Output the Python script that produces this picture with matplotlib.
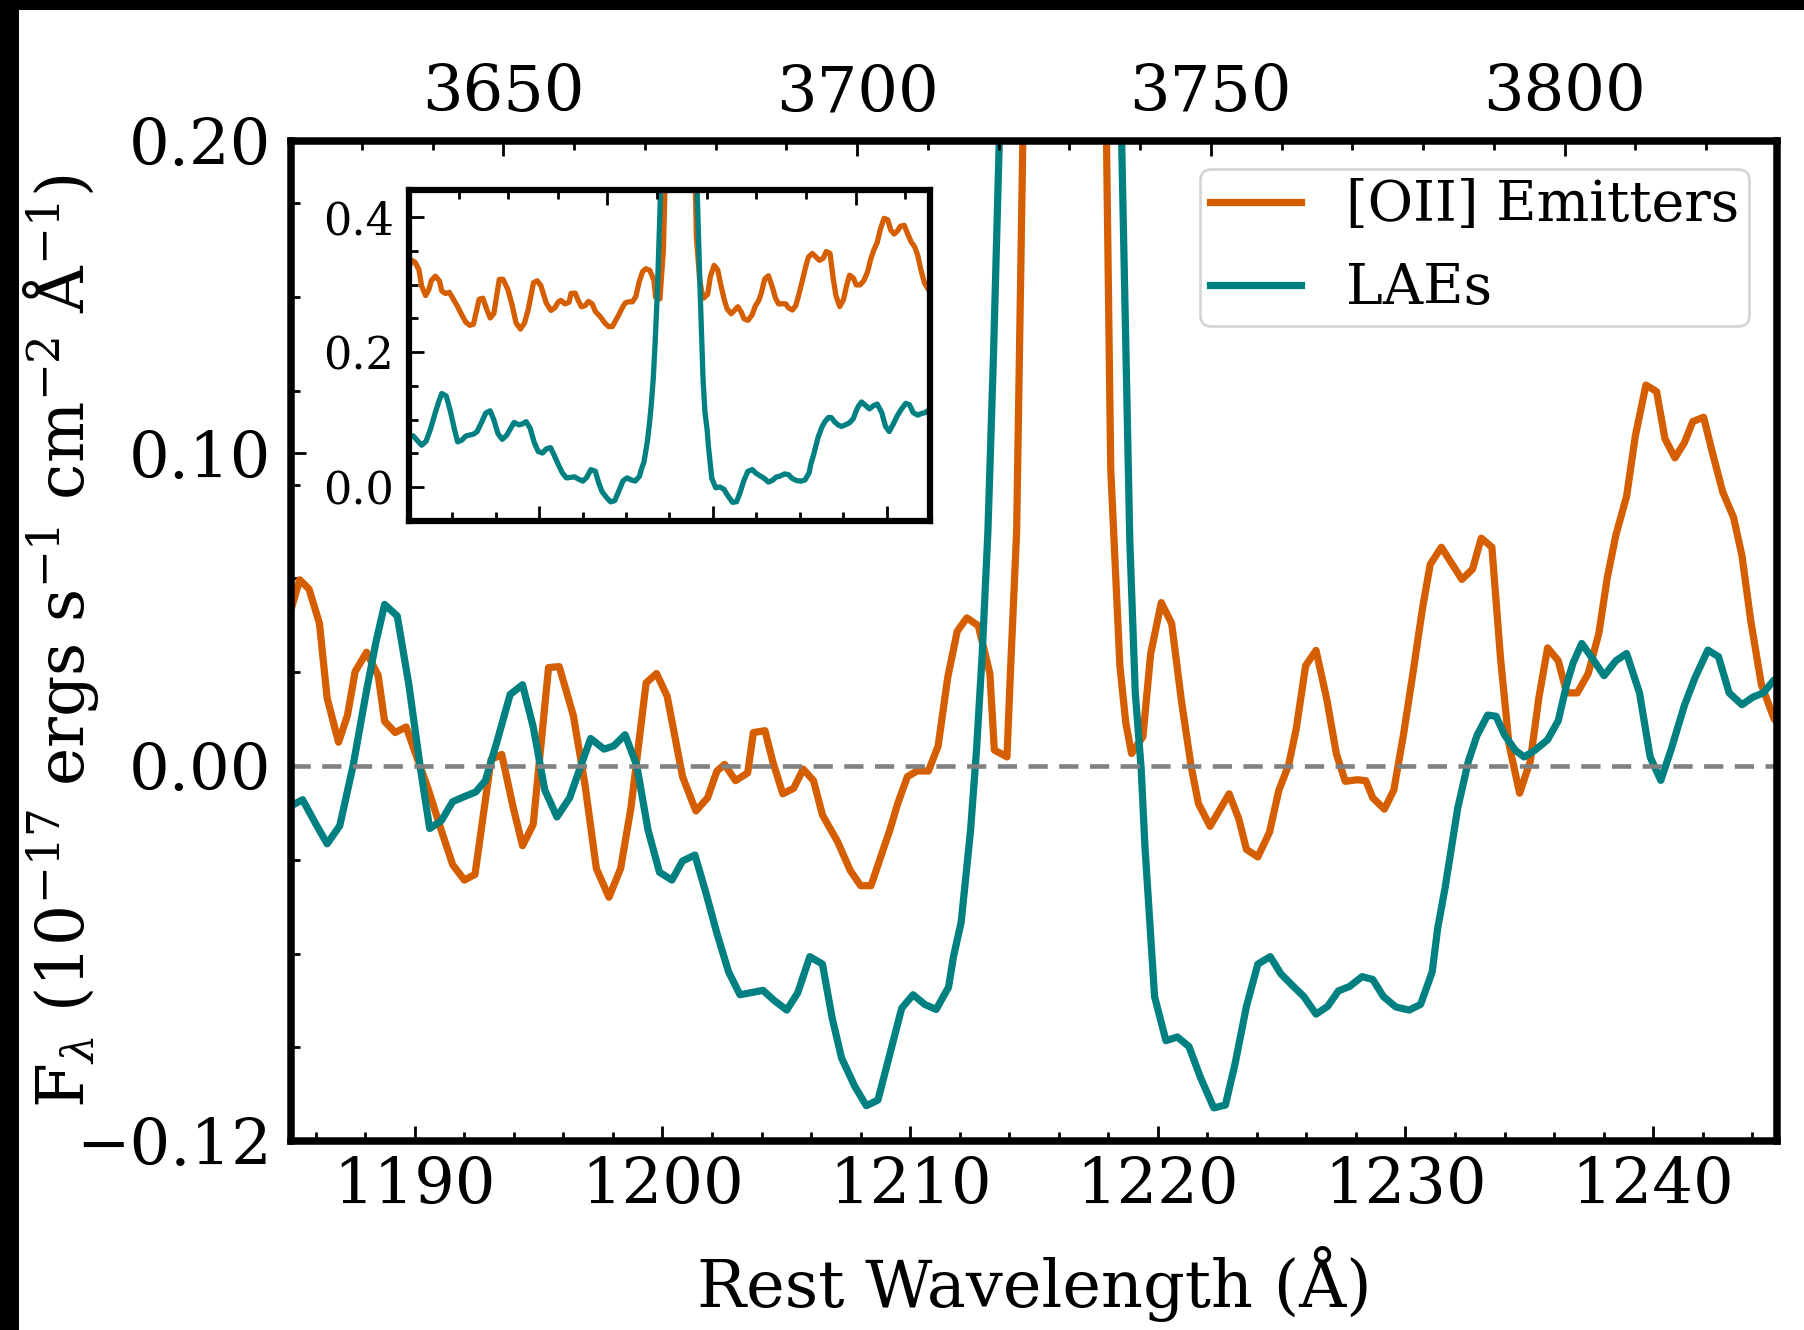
import numpy as np
import matplotlib
matplotlib.use("Agg")
import matplotlib.pyplot as plt
from matplotlib.patches import Rectangle
from matplotlib.ticker import MultipleLocator, AutoMinorLocator

# stacked spectra around Lya (rest wavelength, flux)
oii_wave = [1185.0, 1185.35, 1185.73, 1186.15, 1186.46, 1186.92, 1187.28, 1187.59, 1188.05, 1188.52,
            1188.78, 1189.21, 1189.65, 1190.06, 1190.53, 1191.07, 1191.53, 1192.0, 1192.43, 1193.08,
            1193.51, 1193.97, 1194.35, 1194.78, 1195.4, 1195.83, 1196.4, 1196.87, 1197.33, 1197.84,
            1198.31, 1198.73, 1199.34, 1199.76, 1200.19, 1200.81, 1201.35, 1201.82, 1202.2, 1202.51,
            1202.95, 1203.44, 1203.67, 1204.14, 1204.45, 1204.86, 1205.3, 1205.68, 1206.1, 1206.46,
            1207.07, 1207.58, 1208.0, 1208.42, 1208.81, 1209.2, 1209.5, 1209.89, 1210.28, 1210.74,
            1211.13, 1211.52, 1211.9, 1212.29, 1212.75, 1213.22, 1213.4, 1213.91, 1214.05, 1214.3,
            1214.55, 1215.0, 1215.8, 1216.6, 1217.3, 1217.6, 1217.93, 1218.1, 1218.47, 1218.71,
            1218.94, 1219.4, 1219.71, 1220.14, 1220.56, 1220.95, 1221.34, 1221.64, 1222.11, 1222.88,
            1223.27, 1223.58, 1224.04, 1224.51, 1224.89, 1225.28, 1225.59, 1225.97, 1226.39, 1226.83,
            1227.21, 1227.57, 1228.06, 1228.4, 1228.68, 1229.15, 1229.53, 1229.92, 1230.3, 1230.69,
            1231.0, 1231.45, 1232.28, 1232.71, 1233.06, 1233.49, 1233.84, 1234.18, 1234.61, 1235.04,
            1235.39, 1235.74, 1236.17, 1236.51, 1236.94, 1237.38, 1237.81, 1238.15, 1238.5, 1238.93,
            1239.28, 1239.71, 1240.14, 1240.48, 1240.88, 1241.26, 1241.6, 1242.04, 1242.38, 1242.81,
            1243.25, 1243.59, 1243.94, 1244.37, 1244.88, 1245.2]
oii_flux = [0.050, 0.0596, 0.0566, 0.0456, 0.0217, 0.0076, 0.0162, 0.0302, 0.0364, 0.029,
            0.0143, 0.0107, 0.0125, 0.0033, -0.0071, -0.0206, -0.0316, -0.0365, -0.0347, 0.0021,
            0.0037, -0.0132, -0.0255, -0.0187, 0.0315, 0.0318, 0.0162, -0.0059, -0.0328, -0.042,
            -0.0328, -0.0132, 0.0266, 0.0296, 0.0223, -0.0034, -0.0144, -0.0102, -0.0016, 0.0005,
            -0.0047, -0.0022, 0.0107, 0.0113, 0.0015, -0.0089, -0.0071, -0.001, -0.0047, -0.0157,
            -0.0242, -0.0334, -0.0383, -0.0383, -0.0291, -0.020, -0.012, -0.0034, -0.0016, -0.0016,
            0.0064, 0.0284, 0.0431, 0.0474, 0.0449, 0.0296, 0.0051, 0.0029, 0.030, 0.075,
            0.20, 0.45, 0.70, 0.72, 0.50, 0.40, 0.20, 0.095, 0.032, 0.0137,
            0.004, 0.0094, 0.0358, 0.0523, 0.0456, 0.0211, 0.0002, -0.012, -0.0193, -0.0089,
            -0.0169, -0.0267, -0.0291, -0.0212, -0.0077, 0.0002, 0.0119, 0.0321, 0.037, 0.0211,
            0.0039, -0.0049, -0.0044, -0.0047, -0.0102, -0.0138, -0.0077, 0.010, 0.0296, 0.0505,
            0.0645, 0.070, 0.0597, 0.063, 0.0729, 0.070, 0.0344, 0.007, -0.0087, 0.0015,
            0.022, 0.0378, 0.0337, 0.0234, 0.0234, 0.0296, 0.0425, 0.0603, 0.074, 0.0863,
            0.1055, 0.1219, 0.1198, 0.1047, 0.0986, 0.1034, 0.1102, 0.1116, 0.1007, 0.0877,
            0.0795, 0.0672, 0.0466, 0.0261, 0.0152, 0.012]

lae_wave = [1185.04, 1185.47, 1185.97, 1186.46, 1186.97, 1187.51, 1188.05, 1188.44, 1188.78, 1189.29,
            1189.76, 1190.22, 1190.6, 1191.07, 1191.53, 1192.0, 1192.46, 1192.85, 1193.31, 1193.85,
            1194.35, 1194.78, 1195.25, 1195.74, 1196.25, 1196.71, 1197.1, 1197.64, 1198.03, 1198.49,
            1198.96, 1199.42, 1199.88, 1200.38, 1200.81, 1201.31, 1201.74, 1202.2, 1202.67, 1203.13,
            1204.06, 1204.52, 1205.02, 1205.46, 1205.95, 1206.46, 1206.85, 1207.23, 1207.77, 1208.23,
            1208.7, 1209.2, 1209.66, 1210.12, 1210.59, 1211.05, 1211.55, 1211.75, 1212.06, 1212.44,
            1212.68, 1212.91, 1213.14, 1213.36, 1213.6, 1214.0, 1214.6, 1215.4, 1216.2, 1217.0,
            1217.8, 1218.3, 1218.54, 1218.87, 1219.09, 1219.33, 1219.48, 1219.87, 1220.33, 1220.79,
            1221.26, 1221.72, 1222.26, 1222.73, 1223.12, 1223.58, 1224.04, 1224.54, 1224.97, 1225.43,
            1225.9, 1226.39, 1226.86, 1227.29, 1227.75, 1228.25, 1228.68, 1229.11, 1229.61, 1230.15,
            1230.61, 1231.08, 1231.3, 1231.6, 1232.11, 1232.54, 1232.89, 1233.32, 1233.66, 1234.01,
            1234.44, 1234.79, 1235.22, 1235.74, 1236.17, 1236.51, 1236.77, 1237.12, 1237.55, 1238.02,
            1238.5, 1238.93, 1239.45, 1239.88, 1240.31, 1240.74, 1241.26, 1241.69, 1242.21, 1242.64,
            1243.07, 1243.59, 1244.02, 1244.45, 1244.88, 1245.2]
lae_flux = [-0.0126, -0.0108, -0.0181, -0.0249, -0.0191, 0.0002, 0.0241, 0.040, 0.0517, 0.048,
            0.026, -0.0004, -0.020, -0.0175, -0.0114, -0.0098, -0.0083, -0.0047, 0.0076, 0.0229,
            0.026, 0.0125, -0.0077, -0.0163, -0.0102, 0.0002, 0.0088, 0.0054, 0.0064, 0.010,
            0.0002, -0.0206, -0.034, -0.0365, -0.0304, -0.0285, -0.0402, -0.0536, -0.0659, -0.0732,
            -0.0718, -0.0751, -0.0781, -0.0726, -0.061, -0.0634, -0.0806, -0.0934, -0.1026, -0.1087,
            -0.1069, -0.0916, -0.0775, -0.0732, -0.0763, -0.0779, -0.0708, -0.061, -0.050, -0.0206,
            0.0051, 0.0358, 0.075, 0.13, 0.20, 0.36, 0.62, 0.85, 0.90, 0.78,
            0.52, 0.30, 0.20, 0.072, 0.0235, -0.001, -0.0255, -0.0738, -0.0879, -0.0867,
            -0.0898, -0.0996, -0.1094, -0.1085, -0.0953, -0.0769, -0.0634, -0.061, -0.0665, -0.0702,
            -0.0738, -0.0794, -0.0769, -0.072, -0.0705, -0.0674, -0.0683, -0.0738, -0.0771, -0.0781,
            -0.0763, -0.0659, -0.052, -0.039, -0.0135, 0.0015, 0.0098, 0.0163, 0.0159, 0.0098,
            0.005, 0.0029, 0.005, 0.0084, 0.0145, 0.0262, 0.033, 0.0392, 0.0344, 0.0289,
            0.0337, 0.036, 0.0234, 0.0029, -0.0046, 0.0056, 0.0193, 0.0282, 0.0371, 0.035,
            0.0234, 0.0196, 0.022, 0.0234, 0.0275, 0.028]

# continuum levels seen in the inset (spectra before subtraction)
oii_cont = 0.276
lae_cont = 0.087

labels = ["[OII] Emitters", "LAEs"]
c_oii = "#d55e00"
c_lae = "#008080"

plt.rcParams["font.family"] = "DejaVu Serif"
plt.rcParams["mathtext.fontset"] = "dejavuserif"

fig = plt.figure(figsize=(18.04, 13.3), dpi=100, facecolor="black")
fig.patches.append(Rectangle((19 / 1804, 0), 1, 1 - 10 / 1330, transform=fig.transFigure,
                             facecolor="white", edgecolor="none", zorder=-10))

ax = fig.add_axes([0.1613, 0.1421, 0.8237, 0.7519])
ax.plot(oii_wave, oii_flux, color=c_oii, lw=5.2, label=labels[0])
ax.plot(lae_wave, lae_flux, color=c_lae, lw=5.2, label=labels[1])
ax.axhline(0, color="gray", lw=3.3, ls=(0, (4.2, 2.5)))
ax.set_xlim(1185, 1245)
ax.set_ylim(-0.12, 0.20)
ax.set_yticks([-0.12, 0.0, 0.10, 0.20])
ax.xaxis.set_major_locator(MultipleLocator(10))
ax.xaxis.set_minor_locator(AutoMinorLocator())
ax.yaxis.set_minor_locator(AutoMinorLocator())
ax.tick_params(which="both", direction="in", top=False, right=False, width=2, labelsize=46)
ax.tick_params(which="major", length=11)
ax.tick_params(which="minor", length=6.5)
ax.tick_params(axis="x", pad=11)
ax.tick_params(axis="y", pad=14)
for sp in ax.spines.values():
    sp.set_linewidth(5.4)

ax.set_xlabel("Rest Wavelength (Å)", fontsize=47)
ax.set_ylabel(r"F$_{\lambda}$ (10$^{-17}$ ergs s$^{-1}$ cm$^{-2}$ Å$^{-1}$)", fontsize=46.5)
ax.xaxis.set_label_coords(0.5, -0.105)
ax.yaxis.set_label_coords(-0.128, 0.5)

leg = ax.legend(loc="upper right", fontsize=40, handlelength=1.65, labelspacing=0.5,
                borderpad=0.18)
leg.get_frame().set_linewidth(2)

top = ax.twiny()
top.set_xlim(3620, 3830)
top.xaxis.set_major_locator(MultipleLocator(50))
top.xaxis.set_minor_locator(AutoMinorLocator())
top.tick_params(which="both", direction="in", width=2, labelsize=46, pad=12)
top.tick_params(which="major", length=11)
top.tick_params(which="minor", length=6.5)

# inset with continuum still in
ins = fig.add_axes([0.2267, 0.6083, 0.2888, 0.2489])
ins.plot(oii_wave, np.array(oii_flux) + oii_cont, color=c_oii, lw=3.8)
ins.plot(lae_wave, np.array(lae_flux) + lae_cont, color=c_lae, lw=3.8)
ins.set_xlim(1185, 1245)
ins.set_ylim(-0.05, 0.44)
ins.xaxis.set_major_locator(MultipleLocator(20))
ins.xaxis.set_minor_locator(AutoMinorLocator())
ins.yaxis.set_major_locator(MultipleLocator(0.2))
ins.yaxis.set_minor_locator(AutoMinorLocator())
ins.tick_params(which="both", direction="in", top=False, right=False, width=2,
                labelbottom=False, labelsize=32, pad=11)
ins.tick_params(which="major", length=11)
ins.tick_params(which="minor", length=6.5)
for sp in ins.spines.values():
    sp.set_linewidth(4.5)

ins_top = ins.twiny()
ins_top.set_xlim(3620, 3830)
ins_top.xaxis.set_major_locator(MultipleLocator(100))
ins_top.xaxis.set_minor_locator(AutoMinorLocator())
ins_top.tick_params(which="both", direction="in", width=2, labeltop=False)
ins_top.tick_params(which="major", length=11)
ins_top.tick_params(which="minor", length=6.5)

fig.savefig("out.png", dpi=100, facecolor=fig.get_facecolor())
